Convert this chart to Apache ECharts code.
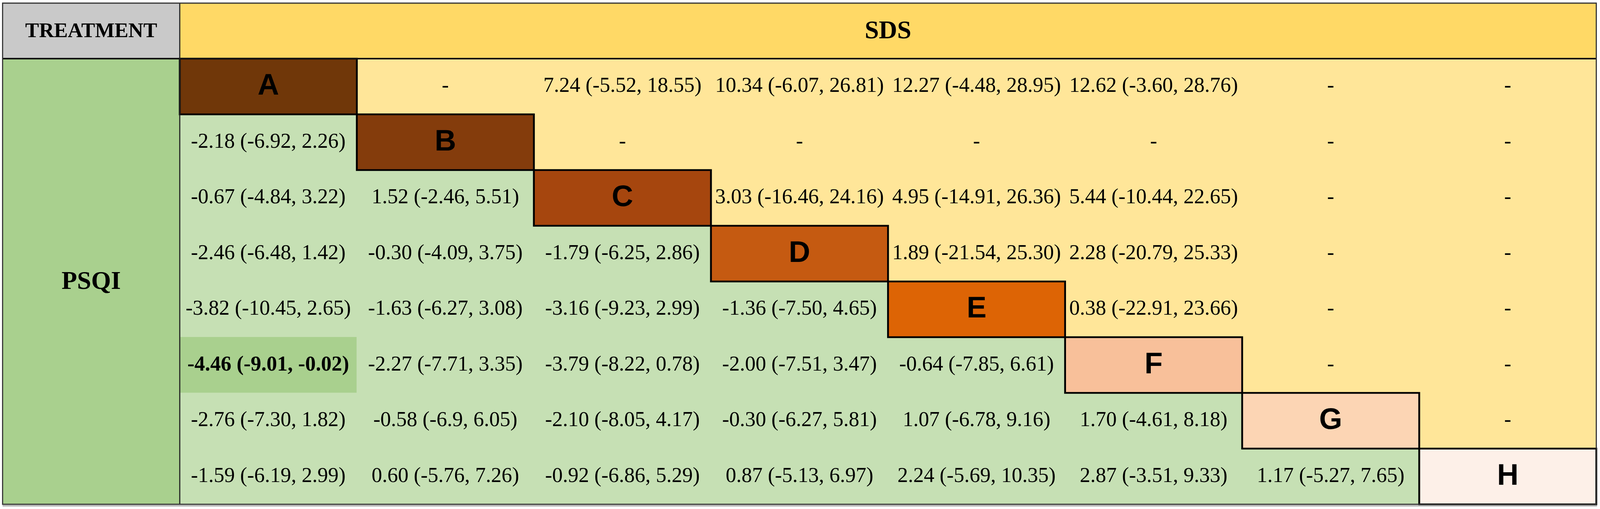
<!DOCTYPE html>
<html>
<head>
<meta charset="utf-8">
<title>PSQI / SDS league table</title>
<script src="https://cdn.jsdelivr.net/npm/echarts@6/dist/echarts.min.js"></script>
<style>
    html, body { margin: 0; padding: 0; width: 100%; height: 100%; overflow: hidden; background: #fff; }
    #main { width: 100%; height: 100%; }
</style>
</head>
<body>
<div id="main"></div>
<script>
// treatments on the diagonal
var treatments = ['A', 'B', 'C', 'D', 'E', 'F', 'G', 'H'];

// SDS (upper triangle): row i against the later treatments i+1 .. H
var sdsRows = [
    ['-', '7.24 (-5.52, 18.55)', '10.34 (-6.07, 26.81)', '12.27 (-4.48, 28.95)', '12.62 (-3.60, 28.76)', '-', '-'],
    ['-', '-', '-', '-', '-', '-'],
    ['3.03 (-16.46, 24.16)', '4.95 (-14.91, 26.36)', '5.44 (-10.44, 22.65)', '-', '-'],
    ['1.89 (-21.54, 25.30)', '2.28 (-20.79, 25.33)', '-', '-'],
    ['0.38 (-22.91, 23.66)', '-', '-'],
    ['-', '-'],
    ['-'],
    []
];

// PSQI (lower triangle): row i against the earlier treatments A .. i-1
var psqiRows = [
    [],
    ['-2.18 (-6.92, 2.26)'],
    ['-0.67 (-4.84, 3.22)', '1.52 (-2.46, 5.51)'],
    ['-2.46 (-6.48, 1.42)', '-0.30 (-4.09, 3.75)', '-1.79 (-6.25, 2.86)'],
    ['-3.82 (-10.45, 2.65)', '-1.63 (-6.27, 3.08)', '-3.16 (-9.23, 2.99)', '-1.36 (-7.50, 4.65)'],
    ['-4.46 (-9.01, -0.02)', '-2.27 (-7.71, 3.35)', '-3.79 (-8.22, 0.78)', '-2.00 (-7.51, 3.47)', '-0.64 (-7.85, 6.61)'],
    ['-2.76 (-7.30, 1.82)', '-0.58 (-6.9, 6.05)', '-2.10 (-8.05, 4.17)', '-0.30 (-6.27, 5.81)', '1.07 (-6.78, 9.16)', '1.70 (-4.61, 8.18)'],
    ['-1.59 (-6.19, 2.99)', '0.60 (-5.76, 7.26)', '-0.92 (-6.86, 5.29)', '0.87 (-5.13, 6.97)', '2.24 (-5.69, 10.35)', '2.87 (-3.51, 9.33)', '1.17 (-5.27, 7.65)']
];

// significant PSQI comparisons [row, col]
var significant = [[5, 0]];

var diagColors = ['#703709', '#843C0C', '#A6460E', '#C55A11', '#DD6405', '#F8C09A', '#FCD5B4', '#FDF0E8'];

var myChart = echarts.init(document.getElementById('main'));

// layout was measured on a 4317 x 1302 picture, scale it to whatever the page gives
var W = myChart.getWidth(), H = myChart.getHeight();
var fx = W / 4317, fy = H / 1302, fs = Math.min(fx, fy);
function px(v) { return Math.round(v * fs) + 'px'; }

var numFont = px(57) + ' "Liberation Serif"';
var boldNumFont = 'bold ' + px(57) + ' "Liberation Serif"';
var letterFont = 'bold ' + px(80) + ' "Liberation Sans"';
var headFont = 'bold ' + px(56) + ' "Liberation Serif"';
var bigHeadFont = 'bold ' + px(68) + ' "Liberation Serif"';

function isSignificant(r, c) {
    for (var k = 0; k < significant.length; k++) {
        if (significant[k][0] == r && significant[k][1] == c) return true;
    }
    return false;
}

// build cell list, diagonal last so its borders sit on top
var cells = [];
for (var i = 0; i < treatments.length; i++) {
    for (var j = 0; j < psqiRows[i].length; j++) {
        var sig = isSignificant(i, j);
        cells.push({ x: j, y: i, text: psqiRows[i][j], fill: sig ? '#A9D08E' : '#C6E0B4', font: sig ? boldNumFont : numFont });
    }
    for (var j = 0; j < sdsRows[i].length; j++) {
        cells.push({ x: i + 1 + j, y: i, text: sdsRows[i][j], fill: '#FFE699', font: numFont });
    }
}
for (var i = 0; i < treatments.length; i++) {
    cells.push({ x: i, y: i, text: treatments[i], fill: diagColors[i], font: letterFont, diag: true });
}

function renderCell(params, api) {
    var c = cells[params.dataIndex];
    var center = api.coord([api.value(0), api.value(1)]);
    var size = api.size([1, 1]);
    var pad = c.diag ? 0 : 0.6;
    return {
        type: 'group',
        children: [
            {
                type: 'rect',
                z2: c.diag ? 10 : 0,
                shape: { x: center[0] - size[0] / 2 - pad, y: center[1] - size[1] / 2 - pad, width: size[0] + pad * 2, height: size[1] + pad * 2 },
                style: { fill: c.fill, stroke: c.diag ? '#000' : null, lineWidth: c.diag ? 5 * fs : 0 }
            },
            {
                type: 'text',
                z2: 20,
                style: { x: center[0], y: center[1], text: c.text, font: c.font, fill: '#000', align: 'center', verticalAlign: 'middle' }
            }
        ]
    };
}

var L = 7 * fx, T = 8 * fy, R = 4307 * fx, B = 1290 * fy;
var colX = 485 * fx, headY = 150 * fy;

var option = {
    backgroundColor: '#ffffff',
    animation: false,
    grid: { left: colX, right: W - R, top: headY, bottom: H - B },
    xAxis: { type: 'category', data: treatments, show: false },
    yAxis: { type: 'category', data: treatments, inverse: true, show: false },
    graphic: [
        { type: 'rect', z: 0, shape: { x: L, y: T, width: colX - L, height: headY - T }, style: { fill: '#C9C9C9' } },
        { type: 'rect', z: 0, shape: { x: colX, y: T, width: R - colX, height: headY - T }, style: { fill: '#FFD966' } },
        { type: 'rect', z: 0, shape: { x: L, y: headY, width: colX - L, height: B - headY }, style: { fill: '#A9D08E' } },
        { type: 'text', z: 5, style: { x: (L + colX) / 2, y: (T + headY) / 2 + 2 * fy, text: 'TREATMENT', font: headFont, fill: '#000', align: 'center', verticalAlign: 'middle' } },
        { type: 'text', z: 5, style: { x: (colX + R) / 2, y: (T + headY) / 2 + 2 * fy, text: 'SDS', font: bigHeadFont, fill: '#000', align: 'center', verticalAlign: 'middle' } },
        { type: 'text', z: 5, style: { x: (L + colX) / 2, y: (headY + B) / 2 + 2 * fy, text: 'PSQI', font: bigHeadFont, fill: '#000', align: 'center', verticalAlign: 'middle' } },
        // frame lines
        { type: 'line', z: 50, shape: { x1: L, y1: headY, x2: R, y2: headY }, style: { stroke: '#111', lineWidth: 4 * fs } },
        { type: 'line', z: 50, shape: { x1: colX, y1: T, x2: colX, y2: B }, style: { stroke: '#222', lineWidth: 3 * fs } },
        { type: 'rect', z: 50, shape: { x: L, y: T, width: R - L, height: B - T }, style: { fill: null, stroke: '#333', lineWidth: 3 * fs } },
        { type: 'line', z: 49, shape: { x1: L, y1: B + 4 * fy, x2: R + 2 * fx, y2: B + 4 * fy }, style: { stroke: '#aaa', lineWidth: 3 * fs } }
    ],
    series: [
        {
            type: 'custom',
            coordinateSystem: 'cartesian2d',
            renderItem: renderCell,
            encode: { x: 0, y: 1 },
            data: cells.map(function (c) { return [c.x, c.y]; }),
            z: 10
        }
    ]
};
myChart.setOption(option);
</script>
</body>
</html>
